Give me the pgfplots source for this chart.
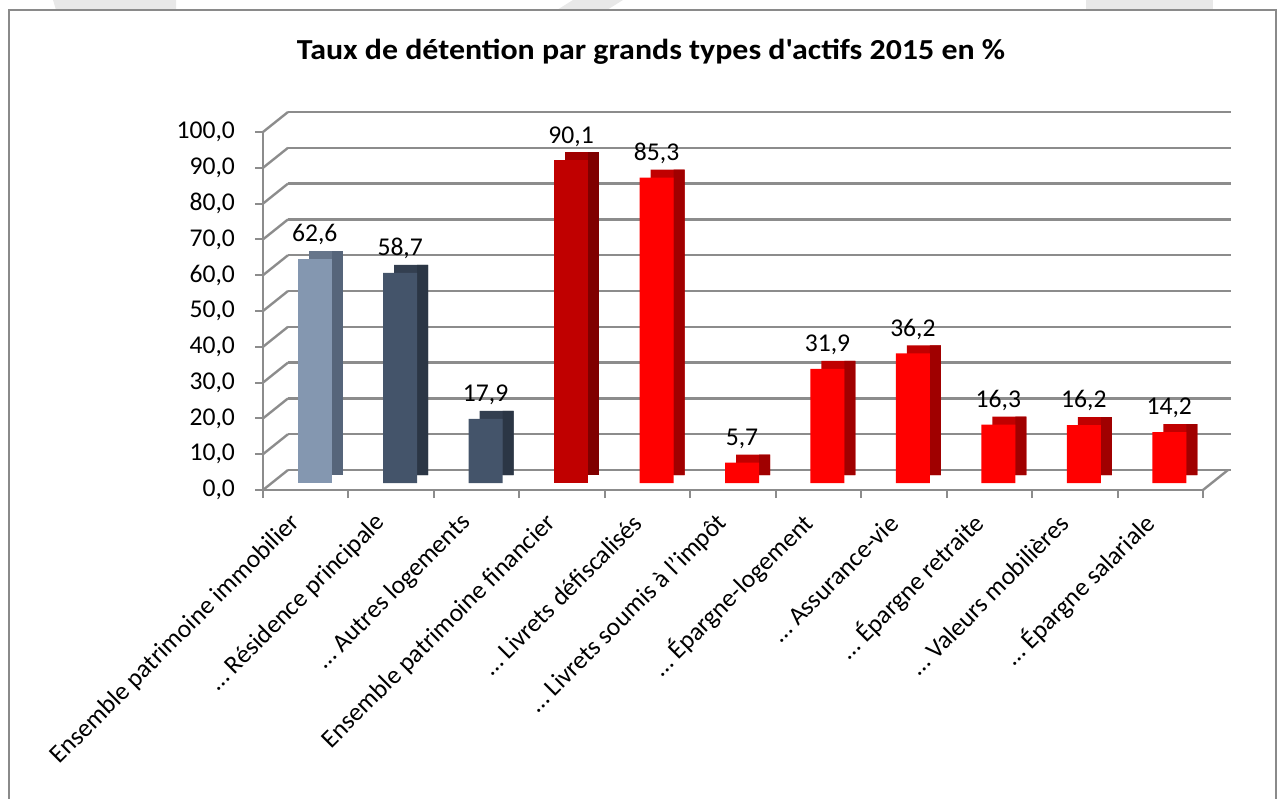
\documentclass[border=0pt]{standalone}
\usepackage{pgfplots}
\pgfplotsset{compat=1.18}
\usepackage{fontspec}
\setmainfont{Carlito}
\newfontfamily\titlefont{Carlito}[FakeStretch=1.1]
\definecolor{gridc}{HTML}{8C8C8C}
\definecolor{frameC}{HTML}{8A8A8A}
\definecolor{wm}{HTML}{E8E8E8}
\definecolor{fA}{HTML}{8497B0}\definecolor{tA}{HTML}{66758A}\definecolor{sA}{HTML}{56657A}
\definecolor{fB}{HTML}{44546A}\definecolor{tB}{HTML}{333F50}\definecolor{sB}{HTML}{2B3645}
\definecolor{fC}{HTML}{C00000}\definecolor{tC}{HTML}{A00000}\definecolor{sC}{HTML}{7F0000}
\definecolor{fD}{HTML}{FF0000}\definecolor{tD}{HTML}{C00000}\definecolor{sD}{HTML}{A00000}
\pgfplotsset{
  topface/.style={fill=#1, draw=none, bar width=17pt, bar shift=5.5pt, xshift=4.5pt, yshift=7.5pt},
  sideface/.style={fill=#1, draw=none, bar width=5.5pt, bar shift=11.25pt, xshift=4.5pt, yshift=7.5pt},
  frontface/.style={fill=#1, draw=none, bar width=17pt, bar shift=0pt, xshift=4.5pt, yshift=3.5pt,
     nodes near coords, every node near coord/.append style={black, font=\fontsize{12.8}{15}\selectfont, yshift=3.5pt}},
}
\begin{document}
\begin{tikzpicture}[font=\fontsize{12.8}{15}\selectfont]
\useasboundingbox (0,0) rectangle (642pt,399pt);
% light shapes above the frame
\fill[wm] (26.5pt,399pt) -- (88pt,399pt) -- (88pt,394pt) -- (28pt,394pt) -- cycle;
\fill[wm] (286.5pt,399pt) -- (311.5pt,399pt) -- (303.5pt,394pt) -- (278.5pt,394pt) -- cycle;
\fill[wm] (543pt,399pt) -- (606.5pt,399pt) -- (606.5pt,394pt) -- (543pt,394pt) -- cycle;
\draw[frameC, line width=1pt] (4.5pt,-10pt) -- (4.5pt,394pt) -- (638pt,394pt) -- (638pt,-10pt);
\node[font=\titlefont\bfseries\fontsize{14.5}{17}\selectfont] at (325.5pt,373pt) {Taux de détention par grands types d'actifs 2015 en \%};

% back wall
\begin{axis}[at={(144pt,164pt)}, anchor=south west, scale only axis,
  width=471.5pt, height=179pt, xmin=0, xmax=1, ymin=0, ymax=100,
  ytick={0,10,...,100}, xtick=\empty, yticklabels={},
  ymajorgrids, major grid style={gridc, line width=1.2pt},
  axis line style={draw=none}, major tick length=0pt]
\addplot[draw=none] coordinates {(0,0)};
\end{axis}
\foreach \i in {0,...,10} \draw[gridc, line width=1.2pt] (131.5pt,{154pt+\i*17.9pt}) -- ++(12.5pt,10pt);
\draw[gridc, line width=1.2pt] (601.5pt,154pt) -- ++(12.5pt,10pt);

% front
\begin{axis}[at={(131.5pt,154pt)}, anchor=south west, scale only axis,
  width=470pt, height=179pt, xmin=-0.5, xmax=10.5, ymin=0, ymax=100, clip=false,
  ybar,
  axis x line*=bottom, axis y line*=left,
  axis line style={gridc, line width=1.2pt},
  tick align=outside, major tick length=4pt, tick style={gridc, line width=1pt},
  ytick={0,10,...,100},
  /pgf/number format/.cd, use comma, fixed, fixed zerofill, precision=1, assume math mode=true,
  /pgfplots/.cd,
  yticklabel style={xshift=-6.5pt},
  xtick={-0.5,0.5,...,10.5}, xticklabels={},
  extra x ticks={0,1,...,10},
  extra x tick style={major tick length=0pt},
  extra x tick labels={Ensemble patrimoine immobilier, … Résidence principale, … Autres logements, Ensemble patrimoine financier, … Livrets défiscalisés, … Livrets soumis à l'impôt, … Épargne-logement, … Assurance-vie, … Épargne retraite, … Valeurs mobilières, … Épargne salariale},
  xticklabel style={xshift=-2.5pt, yshift=-12pt, rotate=45, anchor=east, font=\fontsize{12.8}{15}\selectfont},
]
\addplot[topface=tA] coordinates {(0,62.6)};
\addplot[sideface=sA] coordinates {(0,62.6)};
\addplot[frontface=fA] coordinates {(0,62.6)};
\addplot[topface=tB] coordinates {(1,58.7) (2,17.9)};
\addplot[sideface=sB] coordinates {(1,58.7) (2,17.9)};
\addplot[frontface=fB] coordinates {(1,58.7) (2,17.9)};
\addplot[topface=tC] coordinates {(3,90.1)};
\addplot[sideface=sC] coordinates {(3,90.1)};
\addplot[frontface=fC] coordinates {(3,90.1)};
\addplot[topface=tD] coordinates {(4,85.3) (5,5.7) (6,31.9) (7,36.2) (8,16.3) (9,16.2) (10,14.2)};
\addplot[sideface=sD] coordinates {(4,85.3) (5,5.7) (6,31.9) (7,36.2) (8,16.3) (9,16.2) (10,14.2)};
\addplot[frontface=fD] coordinates {(4,85.3) (5,5.7) (6,31.9) (7,36.2) (8,16.3) (9,16.2) (10,14.2)};
\end{axis}
\end{tikzpicture}
\end{document}
